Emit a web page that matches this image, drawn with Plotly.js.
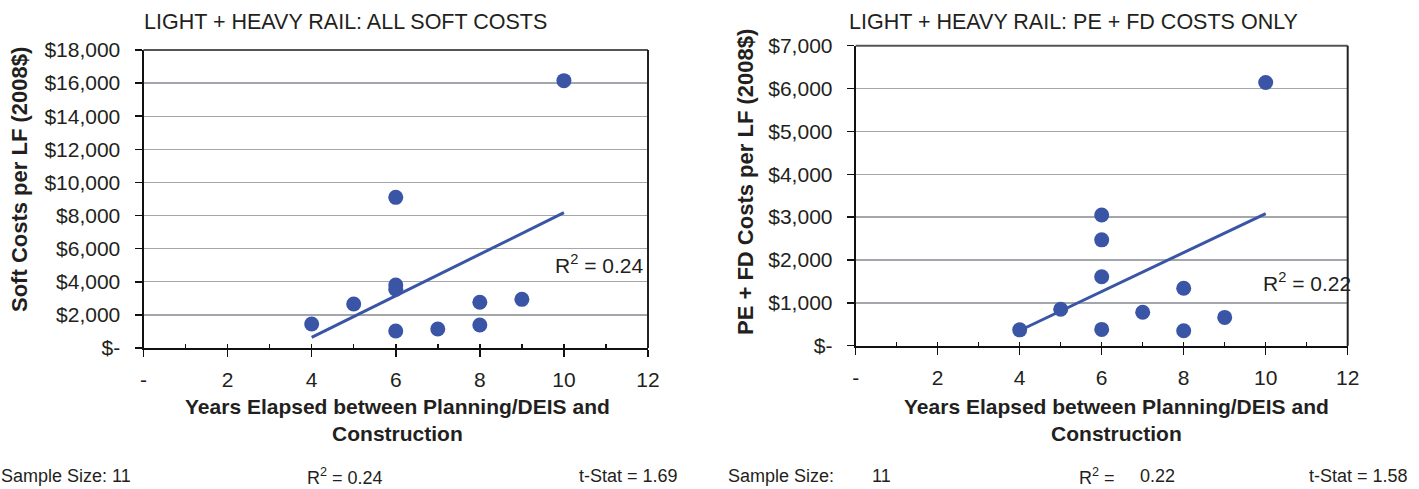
<!DOCTYPE html>
<html>
<head>
<meta charset="utf-8">
<script src="https://cdn.plot.ly/plotly-3.0.1.min.js"></script>
<style>
html,body{margin:0;padding:0;background:#fff;}
#chart{width:1419px;height:489px;}
</style>
</head>
<body>
<div id="chart"></div>
<script>
// ---- Data ----
const softYears = [4, 5, 6, 6, 6, 6, 7, 8, 8, 9, 10];
const softCosts = [1450, 2660, 9100, 3800, 3550, 1030, 1150, 2760, 1390, 2940, 16150];

const peFdYears = [4, 5, 6, 6, 6, 6, 7, 8, 8, 9, 10];
const peFdCosts = [370, 850, 3050, 2470, 1610, 380, 780, 1340, 350, 660, 6140];

const xTickVals = [0, 2, 4, 6, 8, 10, 12];
const xTickText = ['-', '2', '4', '6', '8', '10', '12'];
const softTickVals = [0, 2000, 4000, 6000, 8000, 10000, 12000, 14000, 16000, 18000];
const softTickText = ['$-', '$2,000', '$4,000', '$6,000', '$8,000', '$10,000', '$12,000', '$14,000', '$16,000', '$18,000'];
const peFdTickVals = [0, 1000, 2000, 3000, 4000, 5000, 6000, 7000];
const peFdTickText = ['$-', '$1,000', '$2,000', '$3,000', '$4,000', '$5,000', '$6,000', '$7,000'];

const titles = ['LIGHT + HEAVY RAIL: ALL SOFT COSTS', 'LIGHT + HEAVY RAIL: PE + FD COSTS ONLY'];
const yTitles = ['Soft Costs per LF (2008$)', 'PE + FD Costs per LF (2008$)'];
const xTitle = 'Years Elapsed between Planning/DEIS and<br>Construction';
const r2Values = ['0.24', '0.22'];
const sampleSizes = ['11', '11'];
const tStats = ['1.69', '1.58'];

// ---- Helpers ----
function linreg(xs, ys) {
  const n = xs.length;
  const mx = xs.reduce((a, b) => a + b, 0) / n;
  const my = ys.reduce((a, b) => a + b, 0) / n;
  let sxy = 0, sxx = 0;
  for (let i = 0; i < n; i++) { sxy += (xs[i] - mx) * (ys[i] - my); sxx += (xs[i] - mx) ** 2; }
  const m = sxy / sxx;
  const b = my - m * mx;
  const x0 = Math.min(...xs), x1 = Math.max(...xs);
  return { x: [x0, x1], y: [m * x0 + b, m * x1 + b] };
}
const W = 1419, H = 489;
const px = v => v / W;
const py = v => 1 - v / H;

const BLUE = '#3a55a5';
const TXT = '#231f20';
const FONT = 'Liberation Sans, Arial, Helvetica, sans-serif';

const fit1 = linreg(softYears, softCosts);
const fit2 = linreg(peFdYears, peFdCosts);

const traces = [
  { x: softYears, y: softCosts, type: 'scatter', mode: 'markers', xaxis: 'x', yaxis: 'y',
    marker: { color: BLUE, size: 15 }, hoverinfo: 'x+y' },
  { x: fit1.x, y: fit1.y, type: 'scatter', mode: 'lines', xaxis: 'x', yaxis: 'y',
    line: { color: BLUE, width: 3 }, hoverinfo: 'skip' },
  { x: peFdYears, y: peFdCosts, type: 'scatter', mode: 'markers', xaxis: 'x2', yaxis: 'y2',
    marker: { color: BLUE, size: 15 }, hoverinfo: 'x+y' },
  { x: fit2.x, y: fit2.y, type: 'scatter', mode: 'lines', xaxis: 'x2', yaxis: 'y2',
    line: { color: BLUE, width: 3 }, hoverinfo: 'skip' }
];

function xAxis(domain, anchor) {
  return {
    domain: domain, anchor: anchor, range: [0, 12], fixedrange: true,
    showgrid: false, zeroline: false,
    showline: true, linecolor: '#111', linewidth: 2,
    ticks: 'outside', ticklen: 7, tickwidth: 1.5, tickcolor: '#111',
    tickvals: xTickVals, ticktext: xTickText,
    ticklabelstandoff: 5,
    minor: { ticks: 'inside', dtick: 1, ticklen: 4, tickwidth: 1.5, tickcolor: '#111', showgrid: false },
    tickfont: { family: FONT, size: 21, color: TXT }
  };
}
function yAxis(domain, anchor, range, vals, text) {
  return {
    domain: domain, anchor: anchor, range: range, fixedrange: true,
    showgrid: true, gridcolor: '#a3a7ab', gridwidth: 1.4, zeroline: false,
    showline: true, linecolor: '#111', linewidth: 2,
    ticks: 'outside', ticklen: 7, tickwidth: 1.5, tickcolor: '#111',
    tickvals: vals, ticktext: text,
    ticklabelstandoff: 10,
    tickfont: { family: FONT, size: 21, color: TXT }
  };
}

const ann = [];
function txt(text, x, y, opts) {
  ann.push(Object.assign({ text: text, x: x, y: y, xref: 'paper', yref: 'paper', showarrow: false,
    xanchor: 'left', yanchor: 'middle', font: { family: FONT, size: 21, color: TXT } }, opts || {}));
}
// Chart titles
txt(titles[0], px(142), py(22), { font: { family: FONT, size: 21.5, color: TXT } });
txt(titles[1], px(847), py(22), { font: { family: FONT, size: 21.5, color: TXT } });
// Y axis titles
txt('<b>' + yTitles[0] + '</b>', px(19), py(180), { xanchor: 'center', textangle: -90, font: { family: FONT, size: 22, color: TXT } });
txt('<b>' + yTitles[1] + '</b>', px(745), py(182), { xanchor: 'center', textangle: -90, font: { family: FONT, size: 22, color: TXT } });
// X axis titles
txt('<b>' + xTitle + '</b>', px(397), py(420), { xanchor: 'center' });
txt('<b>' + xTitle + '</b>', px(1116), py(420), { xanchor: 'center' });
// R² labels inside plots
txt('R<sup>2</sup> = ' + r2Values[0], px(553), py(264));
txt('R<sup>2</sup> = ' + r2Values[1], px(1261), py(282));
// Bottom statistics
const SF = { family: FONT, size: 18, color: TXT };
const BY = py(476);
txt('Sample Size: ' + sampleSizes[0], px(-1), BY, { font: SF });
txt('R<sup>2</sup> = ' + r2Values[0], px(305), BY, { font: SF });
txt('t-Stat = ' + tStats[0], px(680), BY, { font: SF, xanchor: 'right' });
txt('Sample Size:', px(726), BY, { font: SF });
txt(sampleSizes[1], px(870), BY, { font: SF });
txt('R<sup>2</sup> =', px(1077), BY, { font: SF });
txt(r2Values[1], px(1138), BY, { font: SF });
txt('t-Stat = ' + tStats[1], px(1410), BY, { font: SF, xanchor: 'right' });

const borderLine = { type: 'line', line: { color: '#555', width: 2 }, layer: 'above' };
const shapes = [
  Object.assign({}, borderLine, { xref: 'x domain', yref: 'y domain', x0: 0, x1: 1, y0: 1, y1: 1 }),
  Object.assign({}, borderLine, { xref: 'x domain', yref: 'y domain', x0: 1, x1: 1, y0: 0, y1: 1, line: { color: '#222', width: 2 } }),
  Object.assign({}, borderLine, { xref: 'x2 domain', yref: 'y2 domain', x0: 0, x1: 1, y0: 1, y1: 1 }),
  Object.assign({}, borderLine, { xref: 'x2 domain', yref: 'y2 domain', x0: 1, x1: 1, y0: 0, y1: 1, line: { color: '#222', width: 2 } })
];

const layout = {
  width: W, height: H,
  margin: { l: 0, r: 0, t: 0, b: 0 },
  paper_bgcolor: '#fff', plot_bgcolor: '#fff',
  showlegend: false,
  font: { family: FONT, color: TXT },
  xaxis: xAxis([px(143.5), px(648)], 'y'),
  yaxis: yAxis([py(348), py(50)], 'x', [0, 18000], softTickVals, softTickText),
  xaxis2: xAxis([px(855.7), px(1347.7)], 'y2'),
  yaxis2: yAxis([py(345.7), py(45.7)], 'x2', [0, 7000], peFdTickVals, peFdTickText),
  annotations: ann,
  shapes: shapes
};

Plotly.newPlot('chart', traces, layout, { displayModeBar: false, staticPlot: true });
</script>
</body>
</html>
